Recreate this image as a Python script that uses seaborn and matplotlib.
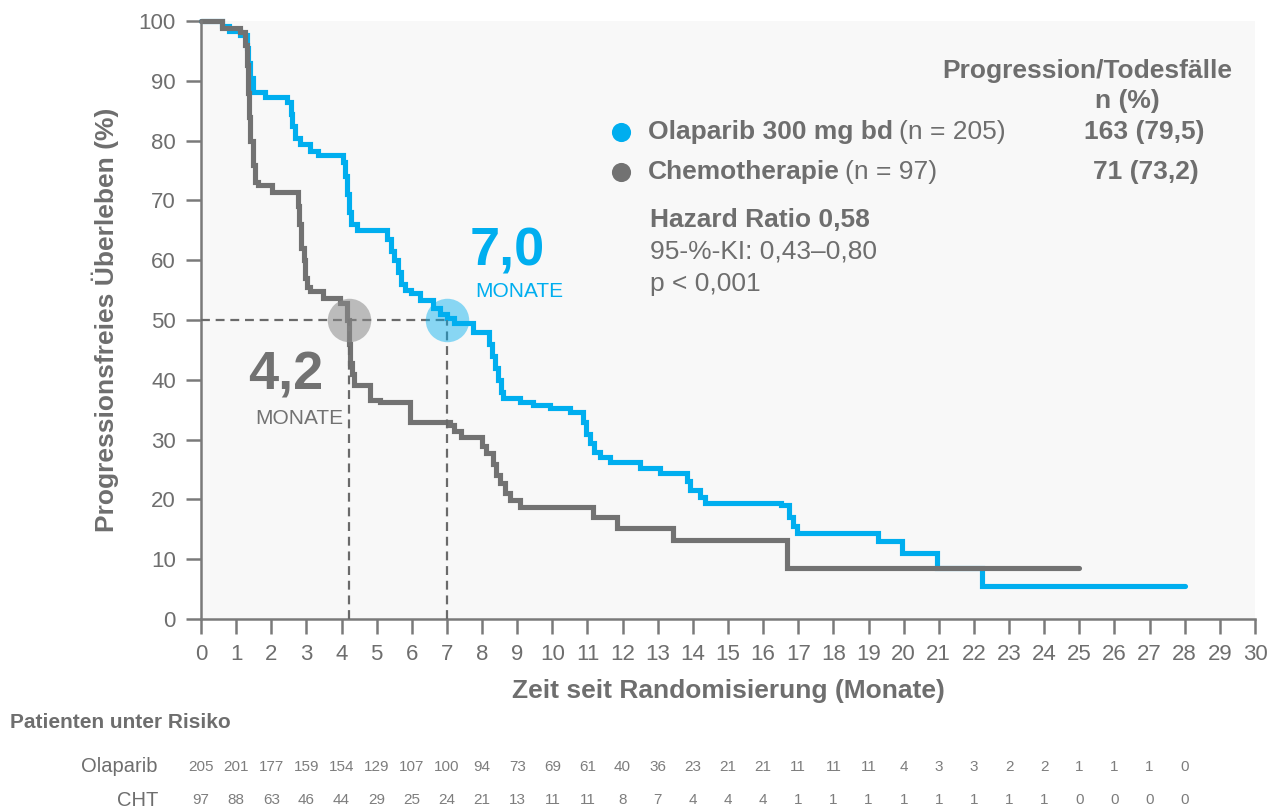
import matplotlib
matplotlib.use("Agg")
import matplotlib.pyplot as plt
import matplotlib.transforms as mtransforms
import pandas as pd
import seaborn as sns

# Kaplan-Meier step points (months, progression-free survival in %)
months_ola = [0, 0.6, 0.8, 1.1, 1.3, 1.35, 1.4, 1.47, 1.82, 2.45, 2.55, 2.6, 2.68, 2.82,
              3.1, 3.34, 4.05, 4.1, 4.15, 4.2, 4.26, 4.45, 5.3, 5.4, 5.5, 5.6, 5.7, 5.8,
              5.97, 6.24, 6.6, 6.8, 7.0, 7.2, 7.74, 8.2, 8.28, 8.36, 8.45, 8.55, 8.6,
              9.08, 9.45, 9.94, 10.5, 10.87, 10.97, 11.07, 11.2, 11.36, 11.64, 12.5,
              13.06, 13.83, 13.93, 14.2, 14.35, 16.5, 16.75, 16.85, 16.97, 19.27,
              19.95, 20.95, 22.24, 28.0]
pfs_ola = [100, 99.2, 98.4, 97.6, 95.5, 93, 90.5, 88.1, 87.3, 86.4, 84.5, 82.5, 80.5, 79.5,
           78.3, 77.6, 76.5, 74, 71, 68, 66, 65.0, 63.5, 61.5, 60.0, 58, 56, 55.0,
           54.5, 53.3, 52.0, 51.0, 50.3, 49.5, 48.0, 46.0, 44, 42, 40, 38, 37.0,
           36.3, 35.8, 35.3, 34.6, 33, 31, 29.5, 28, 27.1, 26.3, 25.2,
           24.4, 23.0, 21.5, 20.4, 19.4, 19.0, 17.0, 15.5, 14.4, 13.0,
           11.0, 8.5, 5.5, 5.5]

months_cht = [0, 0.6, 1.11, 1.25, 1.3, 1.33, 1.36, 1.4, 1.47, 1.53, 1.62, 2.02, 2.76, 2.8,
              2.86, 2.92, 2.97, 3.02, 3.1, 3.48, 3.96, 4.15, 4.2, 4.25, 4.3, 4.36, 4.82,
              5.1, 5.95, 7.1, 7.2, 7.4, 8.0, 8.1, 8.3, 8.4, 8.5, 8.65, 8.8, 9.08, 11.16,
              11.85, 13.44, 16.68, 25.0]
pfs_cht = [100, 98.8, 98.2, 96, 92.6, 88, 84, 80, 76, 73, 72.6, 71.4, 69, 66,
           62, 60, 57, 55.5, 54.8, 53.7, 52.8, 50, 46, 42.8, 41, 39.1, 36.6,
           36.3, 33.0, 32.5, 31.5, 30.4, 29, 27.7, 26, 24, 22.7, 21, 19.9, 18.7, 17.1,
           15.2, 13.2, 8.5, 8.5]

median_ola = 7.0
median_cht = 4.2

risk_months = list(range(29))
risk_ola = [205, 201, 177, 159, 154, 129, 107, 100, 94, 73, 69, 61, 40, 36, 23, 21, 21,
            11, 11, 11, 4, 3, 3, 2, 2, 1, 1, 1, 0]
risk_cht = [97, 88, 63, 46, 44, 29, 25, 24, 21, 13, 11, 11, 8, 7, 4, 4, 4,
            1, 1, 1, 1, 1, 1, 1, 1, 0, 0, 0, 0]

x_ticks = list(range(0, 31))
y_ticks = list(range(0, 101, 10))

BLUE = "#00AEEF"
GREY = "#727272"
TEXT = "#6e6e6e"
LIGHT = "#7d7d7d"

sns.set_style("ticks")
plt.rcParams["font.family"] = ["Liberation Sans", "DejaVu Sans"]

W, H = 1270, 811
fig = plt.figure(figsize=(W / 100, H / 100), dpi=100)
fig.patch.set_facecolor("white")


def fx(px):
    return px / W


def fy(py):
    return 1 - py / H


ax = fig.add_axes([fx(201), fy(619), (1255 - 201) / W, (619 - 21) / H])
ax.set_facecolor("#f8f8f8")

df = pd.concat([
    pd.DataFrame({"Monate": months_ola, "PFS": pfs_ola, "Arm": "Olaparib"}),
    pd.DataFrame({"Monate": months_cht, "PFS": pfs_cht, "Arm": "CHT"}),
], ignore_index=True)

sns.lineplot(data=df, x="Monate", y="PFS", hue="Arm", hue_order=["Olaparib", "CHT"],
             palette={"Olaparib": BLUE, "CHT": GREY}, estimator=None, sort=False,
             drawstyle="steps-post", linewidth=3.7, legend=False, ax=ax)
for ln in ax.lines:
    ln.set_clip_on(False)
    ln.set_solid_capstyle("round")
    ln.set_solid_joinstyle("miter")

# median guides
dash = dict(color="#6a6a6a", linewidth=1.6, linestyle=(0, (4, 2.6)), zorder=4)
ax.plot([0, median_ola], [50, 50], **dash)
ax.plot([median_cht, median_cht], [0, 50], **dash)
ax.plot([median_ola, median_ola], [0, 50], **dash)
ax.scatter([median_cht], [50], s=980, color="#8a8a8a", alpha=0.55, linewidths=0, zorder=5)
ax.scatter([median_ola], [50], s=980, color=BLUE, alpha=0.45, linewidths=0, zorder=5)

ax.text(8.72, 61.4, "7,0", color=BLUE, fontsize=39, fontweight="bold", ha="center", va="center")
ax.text(9.05, 54.7, "MONATE", color=BLUE, fontsize=15, ha="center", va="center")
ax.text(2.4, 40.7, "4,2", color=GREY, fontsize=39, fontweight="bold", ha="center", va="center")
ax.text(2.8, 33.6, "MONATE", color=GREY, fontsize=15, ha="center", va="center")

ax.set_xlim(0, 30)
ax.set_ylim(0, 100)
ax.set_xticks(x_ticks)
ax.set_yticks(y_ticks)
sns.despine(ax=ax)
for side in ("left", "bottom"):
    ax.spines[side].set_color("#7a7a7a")
    ax.spines[side].set_linewidth(1.8)
ax.tick_params(axis="both", colors="#7a7a7a", length=11, width=1.8, labelsize=16,
               labelcolor=TEXT, pad=7)
ax.set_xlabel("Zeit seit Randomisierung (Monate)", fontsize=19, fontweight="bold",
              color=TEXT, labelpad=10)
ax.set_ylabel("Progressionsfreies Überleben (%)", fontsize=19, fontweight="bold",
              color=TEXT, labelpad=14)

# legend block
fig.text(fx(1087), fy(71), "Progression/Todesfälle", fontsize=19, fontweight="bold",
         color=TEXT, ha="center", va="center")
fig.text(fx(1127), fy(101), "n (%)", fontsize=19, fontweight="bold", color=TEXT,
         ha="center", va="center")

for py, col, bold, rest, val, vx in [
    (132, BLUE, "Olaparib 300 mg bd", "(n = 205)", "163 (79,5)", 1144),
    (172, GREY, "Chemotherapie", "(n = 97)", "71 (73,2)", 1146),
]:
    ax.scatter([fx(621)], [fy(py)], s=190, color=col, transform=fig.transFigure,
               clip_on=False, linewidths=0, zorder=6)
    t = fig.text(fx(648), fy(py), bold, fontsize=19, fontweight="bold", color=TEXT,
                 ha="left", va="center")
    ax.annotate(rest, xy=(1, 0.5), xycoords=t, xytext=(4, 0), textcoords="offset points",
                fontsize=19, color=TEXT, ha="left", va="center", annotation_clip=False)
    fig.text(fx(vx), fy(py), val, fontsize=19, fontweight="bold", color=TEXT,
             ha="center", va="center")

fig.text(fx(650), fy(220), "Hazard Ratio 0,58", fontsize=19, fontweight="bold",
         color=TEXT, ha="left", va="center")
fig.text(fx(650), fy(252), "95-%-KI: 0,43–0,80", fontsize=19, color=TEXT,
         ha="left", va="center")
fig.text(fx(650), fy(284), "p < 0,001", fontsize=19, color=TEXT, ha="left", va="center")

# numbers at risk
fig.text(fx(10), fy(722), "Patienten unter Risiko", fontsize=15, fontweight="bold",
         color=TEXT, ha="left", va="center")
blend = mtransforms.blended_transform_factory(ax.transData, fig.transFigure)
for label, counts, py in [("Olaparib", risk_ola, 767), ("CHT", risk_cht, 800)]:
    fig.text(fx(158), fy(py), label, fontsize=14.5, color=TEXT, ha="right", va="center")
    for m, c in zip(risk_months, counts):
        ax.text(m, fy(py), str(c), transform=blend, fontsize=11, color=LIGHT,
                ha="center", va="center", clip_on=False)

fig.savefig("out.png", dpi=100, facecolor="white")
